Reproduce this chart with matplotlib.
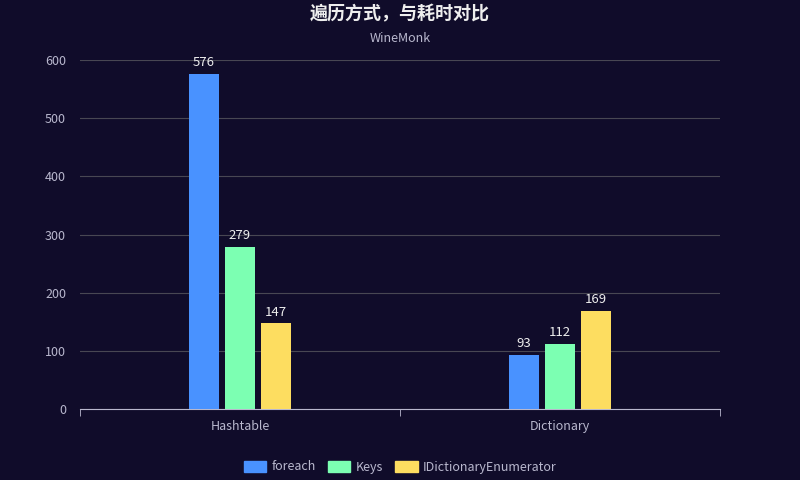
import matplotlib
matplotlib.use('Agg')
import matplotlib.pyplot as plt
import numpy as np

plt.rcParams['font.family'] = ['Noto Sans CJK SC', 'DejaVu Sans']

categories = ['Hashtable', 'Dictionary']
series_names = ['foreach', 'Keys', 'IDictionaryEnumerator']
foreach_vals = [576, 93]
keys_vals = [279, 112]
enum_vals = [147, 169]

colors = ['#4992ff', '#7cffb2', '#fddd60']
bg = '#100c2a'
text_col = '#b9b8ce'

fig = plt.figure(figsize=(8, 4.8), dpi=100, facecolor=bg)
ax = fig.add_axes([80 / 800, 1 - 409 / 480, 640 / 800, 349 / 480])
ax.set_facecolor(bg)

x = np.arange(len(categories))
width = 30 / 320
offsets = [-36 / 320, 0, 36 / 320]
for vals, name, c, off in zip([foreach_vals, keys_vals, enum_vals], series_names, colors, offsets):
    bars = ax.bar(x + off, vals, width, color=c, label=name, zorder=3)
    for b, v in zip(bars, vals):
        ax.text(b.get_x() + b.get_width() / 2, v + 8, str(v), ha='center', va='bottom',
                color='#eeeeee', fontsize=9.5)

ax.set_xlim(-0.5, 1.5)
ax.set_ylim(0, 600)
ax.set_yticks(range(0, 601, 100))
ax.yaxis.grid(True, color='#484753', linewidth=0.8, zorder=0)
ax.set_xticks(x)
ax.set_xticklabels(categories)
ax.set_xticks([-0.5, 0.5, 1.5], minor=True)
ax.tick_params(axis='x', which='major', length=0, colors=text_col, labelsize=9, pad=8)
ax.tick_params(axis='x', which='minor', length=5, color='#b9b8ce', direction='out')
ax.tick_params(axis='y', length=0, colors=text_col, labelsize=9, pad=10)
for s in ['top', 'right', 'left']:
    ax.spines[s].set_visible(False)
ax.spines['bottom'].set_color('#b9b8ce')

fig.text(0.5, 1 - 14 / 480, '遍历方式，与耗时对比', ha='center', va='center',
         color='#eeeeee', fontsize=13, fontweight='bold')
fig.text(0.5, 1 - 38 / 480, 'WineMonk', ha='center', va='center', color=text_col, fontsize=9)

handles = [plt.Rectangle((0, 0), 1, 1, color=c) for c in colors]
fig.legend(handles, series_names, loc='center', bbox_to_anchor=(0.5, 1 - 467 / 480),
           ncol=3, frameon=False, labelcolor=text_col, fontsize=9,
           handlelength=1.8, handleheight=1.0, columnspacing=1.0, handletextpad=0.4)

fig.savefig('out.png', dpi=100, facecolor=bg)
